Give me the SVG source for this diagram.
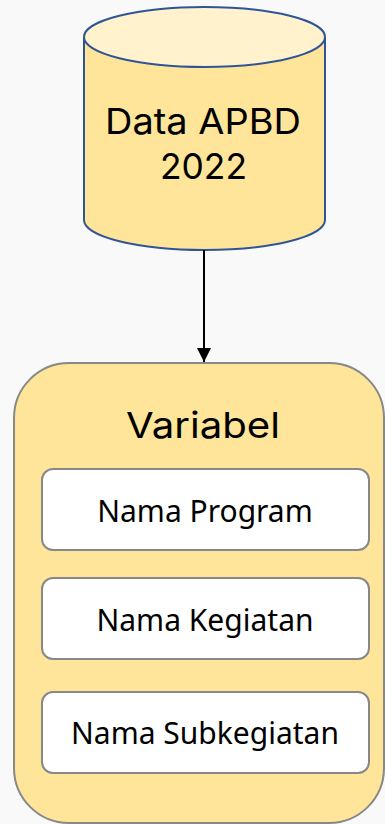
<svg xmlns="http://www.w3.org/2000/svg" width="385" height="824" viewBox="0 0 385 824">
  <style>
    .title { font-family: "Inter", "DejaVu Sans", sans-serif; font-size: 36px; fill: #000; text-anchor: middle; }
    .item { font-family: "Noto Sans", "Open Sans", sans-serif; font-size: 30px; fill: #000; text-anchor: middle; }
    .box { fill: #ffffff; stroke: #888888; stroke-width: 2; }
  </style>
  <defs>
    <marker id="arrow" viewBox="0 0 14 14" refX="14" refY="7" markerWidth="14" markerHeight="14" markerUnits="userSpaceOnUse" orient="auto">
      <path d="M0,0 L14,7 L0,14 Z" fill="#000"/>
    </marker>
  </defs>
  <rect width="385" height="824" fill="#f9f9f9"/>

  <g id="data-apbd">
    <path d="M84,37 L84,220 A120.5,30 0 0 0 325,220 L325,37" fill="#ffe599" stroke="#2f5597" stroke-width="2"/>
    <ellipse cx="204.5" cy="37" rx="120.5" ry="30" fill="#fff2cc" stroke="#2f5597" stroke-width="2"/>
    <text class="title" x="203" y="134" textLength="196" lengthAdjust="spacingAndGlyphs">Data APBD</text>
    <text class="title" x="203.5" y="179" textLength="87" lengthAdjust="spacingAndGlyphs">2022</text>
  </g>

  <g id="connectors">
    <line x1="204" y1="250" x2="204" y2="362" stroke="#000" stroke-width="2" marker-end="url(#arrow)"/>
  </g>

  <g id="variabel">
    <rect x="14" y="363" width="370" height="460" rx="55" ry="55" fill="#ffe599" stroke="#888888" stroke-width="2"/>
    <text class="title" x="203" y="438" textLength="154" lengthAdjust="spacingAndGlyphs">Variabel</text>
  </g>

  <g id="nama-program">
    <rect class="box" x="42" y="469" width="327" height="81" rx="11"/>
    <text class="item" x="205" y="522">Nama Program</text>
  </g>

  <g id="nama-kegiatan">
    <rect class="box" x="42" y="578" width="327" height="81" rx="11"/>
    <text class="item" x="205" y="631">Nama Kegiatan</text>
  </g>

  <g id="nama-subkegiatan">
    <rect class="box" x="42" y="692" width="327" height="81" rx="11"/>
    <text class="item" x="205" y="744">Nama Subkegiatan</text>
  </g>
</svg>
